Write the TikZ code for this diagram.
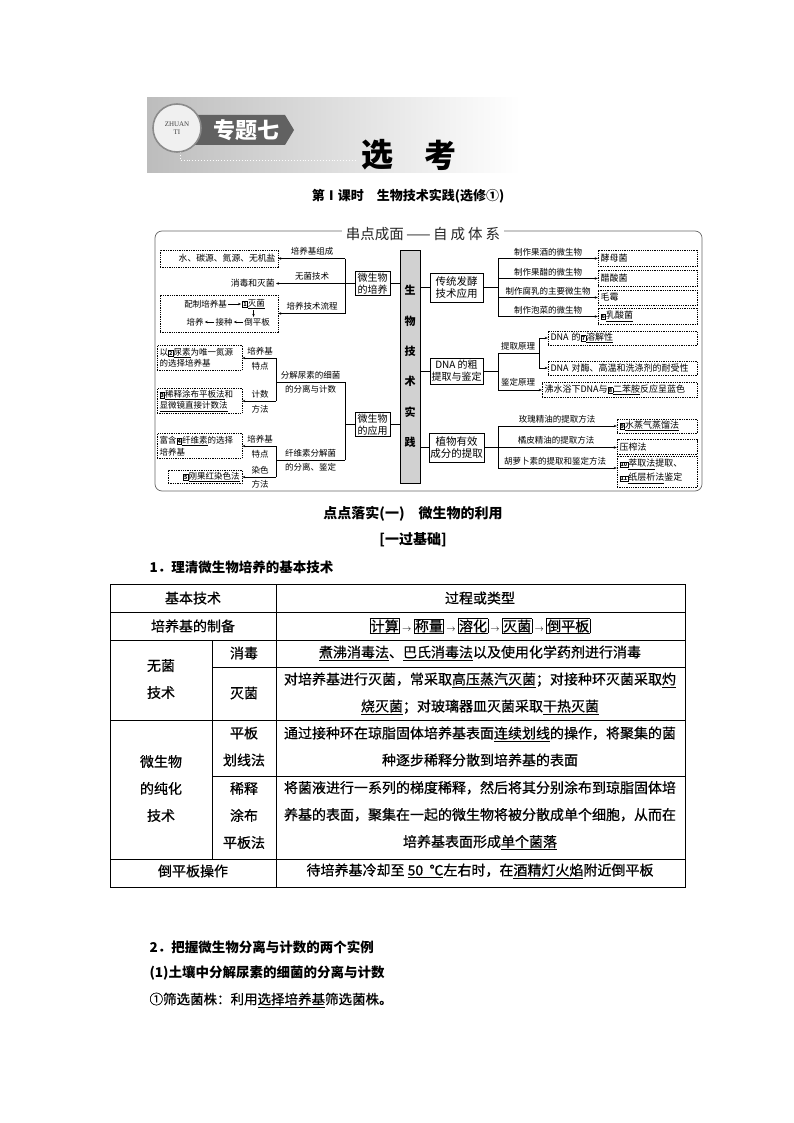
\documentclass[tikz,border=0pt]{standalone}
\usepackage{fontspec}
\setmainfont{Noto Sans CJK SC}
\newfontfamily\serifL{Liberation Serif}
\newfontfamily\tblf{Noto Sans CJK SC}[FakeBold=0.6]
\usetikzlibrary{arrows.meta,calc}
\newcommand\fsz[1]{\fontsize{#1}{#1}\selectfont}
\newcommand\uln[1]{\underline{#1}}
\newcommand\bnum[1]{{\setlength{\fboxsep}{0.5pt}\setlength{\fboxrule}{0.6pt}\fbox{\fontsize{5.5}{5.5}\selectfont\bfseries #1}}}
\newcommand\tb[1]{{\setlength{\fboxsep}{0.5pt}\setlength{\fboxrule}{0.6pt}\fbox{#1}}}
\newcommand\sarr{\,{\fontsize{9}{9}\selectfont$\rightarrow$}\,}
\begin{document}
\begin{tikzpicture}[x=1pt,y=-1pt,line width=0.5pt,
  arr/.style={-{Stealth[length=3pt,width=2.4pt]}},
  dbox/.style={draw,dash pattern=on 1.3pt off 1pt,inner xsep=2.5pt,inner ysep=1pt,font=\fontsize{9}{12}\selectfont,align=left},
  sbox/.style={draw,inner sep=1.5pt,align=center},
  lbl/.style={font=\fsz{8.5},inner sep=0.5pt},
  tt/.style={font=\tblf\fontsize{14}{27}\selectfont,align=center,inner sep=0pt},
  tx/.style={font=\fsz{8.5},inner sep=1pt}]
\useasboundingbox (0,0) rectangle (794,1123);
\fill[white] (0,0) rectangle (794,1123);

% ---------- header banner ----------
\shade[left color=black!26,middle color=black!16,right color=white] (147,98) rectangle (520,173);
\fill[black!62] (190,115) -- (285,115) -- (294,130) -- (285,145) -- (190,145) -- cycle;
\draw[white,dotted,line width=0.9] (180,152) -- (180,160) -- (357,160);
\draw[fill=black!6,draw=black!45,line width=1.6] (177,128) circle (24);
\node[font=\serifL\fontsize{7}{8.5}\selectfont,align=center,text=black!75] (zt) at (177,128) {ZHUAN\\TI};
\node[font=\fsz{22}\bfseries,text=white] (zt2) at (246,130) {专题七};
\node[font=\fsz{32}\bfseries] (xk1) at (377,155) {选};
\node[font=\fsz{32}\bfseries] (xk2) at (440,155) {考};
\node[font=\fsz{13}\bfseries] (sub) at (408,196) {第Ⅰ课时\quad 生物技术实践(选修①)};

% ---------- concept map ----------
\draw[black!60,line width=0.7,rounded corners=7] (155,231) rectangle (702,491);
\node[fill=white,inner xsep=4pt,inner ysep=1pt,font=\fsz{14.5},text=black!85] (mt) at (423,234) {串点成面\,——\,自\hspace{3pt}成\hspace{3pt}体\hspace{3pt}系};

\node[sbox,fill=black!18,minimum width=20,minimum height=233,font=\fontsize{11}{30.4}\selectfont\bfseries] (c) at (410,366.5) {生\\物\\技\\术\\实\\践};

\node[sbox,font=\fontsize{10}{11.5}\selectfont,minimum width=35,minimum height=23] (m1) at (372.5,283.5) {微生物\\的培养};
\node[sbox,font=\fontsize{10}{11.5}\selectfont,minimum width=35,minimum height=24] (m2) at (372.5,424.5) {微生物\\的应用};
\node[sbox,font=\fontsize{10.5}{12}\selectfont,minimum width=53,minimum height=29] (r1) at (456.5,287.5) {传统发酵\\技术应用};
\node[sbox,font=\fontsize{10}{12}\selectfont,minimum width=53,minimum height=26] (r2) at (456.5,371) {DNA 的粗\\提取与鉴定};
\node[sbox,font=\fontsize{10.5}{12}\selectfont,minimum width=53,minimum height=29] (r3) at (456.5,447.5) {植物有效\\成分的提取};

\draw (c.west |- m1) -- (m1.east);
\draw (c.west |- m2) -- (m2.east);
\draw (c.east |- r1) -- (r1.west);
\draw (c.east |- r2) -- (r2.west);
\draw (c.east |- r3) -- (r3.west);

% left upper
\coordinate (L1) at (345,283.5);
\coordinate (L1a) at (345,258.5);
\coordinate (L1c) at (345,313.5);
\draw (m1.west) -- (L1);
\draw (L1a) -- (L1c);
\node[dbox,font=\fsz{8.8},text width=113,align=right,minimum height=17] (b1) at (219,258.5) {水、碳源、氮源、无机盐};
\node[tx,font=\fsz{8.8},anchor=east] (b2) at (276,283.5) {消毒和灭菌};
\node[dbox,minimum width=118,minimum height=37] (b3) at (219,313.5) {};
\draw[arr] (L1a) -- (L1a -| b1.east);
\draw[arr] (L1) -- (b2.east);
\draw[arr] (L1c) -- (L1c -| b3.east);
\node[lbl] (t1) at (312,251) {培养基组成};
\node[lbl] (t2) at (312,276.5) {无菌技术};
\node[lbl] (t3) at (312,306) {培养技术流程};
\node[tx,anchor=east] (n1) at (228,304) {配制培养基};
\node[tx,anchor=west] (n2) at (241,304) {\bnum{1}\uln{灭菌}};
\node[tx,anchor=west] (n3) at (243,322) {倒平板};
\node[tx] (n4) at (224,322) {接种};
\node[tx] (n5) at (195,322) {培养};
\draw[arr] (n1.east) -- (n2.west);
\draw[arr] (n2.south) -- (n2.south |- n3.north);
\draw[arr] (n3.west) -- (n4.east);
\draw[arr] (n4.west) -- (n5.east);

% left lower
\coordinate (L2) at (345,424.5);
\coordinate (L2a) at (345,382);
\coordinate (L2b) at (345,460);
\coordinate (K1) at (276,382);
\coordinate (K2) at (276,460);
\draw (m2.west) -- (L2);
\draw (L2a) -- (L2b);
\draw (L2a) -- (K1);
\draw (L2b) -- (K2);
\node[lbl] (t4) at (310.5,375.5) {分解尿素的细菌};
\node[lbl] (t5) at (310.5,389.5) {的分离与计数};
\node[lbl] (t6) at (310.5,453.5) {纤维素分解菌};
\node[lbl] (t7) at (310.5,467.5) {的分离、鉴定};
\node[dbox,font=\fontsize{8.5}{11.5}\selectfont,text width=80,minimum height=25] (u1) at (199.5,358) {以\bnum{2}\uln{尿素}为唯一氮源\\的选择培养基};
\node[dbox,font=\fontsize{8.5}{11.5}\selectfont,text width=80,minimum height=25] (u2) at (199.5,401) {\bnum{3}\uln{稀释涂布平板法}和\\\uln{显微镜直接计数法}};
\node[dbox,font=\fontsize{8.5}{11.5}\selectfont,text width=80,minimum height=25] (u3) at (199.5,446) {富含\bnum{4}\uln{纤维素}的选择\\培养基};
\node[dbox,font=\fsz{8.5},text width=69,align=right,minimum height=13] (u4) at (205,477) {\bnum{5}\uln{刚果红染色法}};
\coordinate (K1a) at (276,358);
\coordinate (K1b) at (276,401);
\coordinate (K2a) at (276,446);
\coordinate (K2b) at (276,477);
\draw (K1a) -- (K1b);
\draw (K2a) -- (K2b);
\draw[arr] (K1a) -- (K1a -| u1.east);
\draw[arr] (K1b) -- (K1b -| u2.east);
\draw[arr] (K2a) -- (K2a -| u3.east);
\draw[arr] (K2b) -- (K2b -| u4.east);
\node[lbl] (t8) at (260,351) {培养基};
\node[lbl] (t9) at (260,366) {特点};
\node[lbl] (t10) at (260,394) {计数};
\node[lbl] (t11) at (260,409) {方法};
\node[lbl] (t12) at (260,439) {培养基};
\node[lbl] (t13) at (260,454) {特点};
\node[lbl] (t14) at (260,470) {染色};
\node[lbl] (t15) at (260,484.5) {方法};

% right: fermentation
\coordinate (R1) at (498,287.5);
\coordinate (R1a) at (498,258.5);
\coordinate (R1b) at (498,278.5);
\coordinate (R1c) at (498,297.5);
\coordinate (R1d) at (498,316.5);
\draw (r1.east) -- (R1);
\draw (R1a) -- (R1d);
\node[dbox,text width=94,minimum height=16] (f1) at (647.5,258.5) {酵母菌};
\node[dbox,text width=94,minimum height=16] (f2) at (647.5,278.5) {醋酸菌};
\node[dbox,text width=94,minimum height=15] (f3) at (647.5,297.5) {毛霉};
\node[dbox,text width=94,minimum height=16] (f4) at (647.5,316.5) {\bnum{6}\uln{乳酸菌}};
\draw[arr] (R1a) -- (R1a -| f1.west);
\draw[arr] (R1b) -- (R1b -| f2.west);
\draw[arr] (R1c) -- (R1c -| f3.west);
\draw[arr] (R1d) -- (R1d -| f4.west);
\node[lbl] (t16) at (548,252) {制作果酒的微生物};
\node[lbl] (t17) at (548,272) {制作果醋的微生物};
\node[lbl] (t18) at (548,291) {制作腐乳的主要微生物};
\node[lbl] (t19) at (548,310) {制作泡菜的微生物};

% right: DNA
\coordinate (R2) at (498,371);
\coordinate (R2a) at (498,353);
\coordinate (R2b) at (498,390);
\coordinate (R2c) at (539,353);
\coordinate (R2d) at (539,338);
\coordinate (R2e) at (539,368);
\draw (r2.east) -- (R2);
\draw (R2a) -- (R2b);
\draw (R2a) -- (R2c);
\draw (R2d) -- (R2e);
\node[dbox,text width=144,minimum height=14] (d1) at (622.5,338) {DNA 的\bnum{7}\uln{溶解性}};
\node[dbox,text width=144,minimum height=14] (d2) at (622.5,368) {DNA 对酶、高温和洗涤剂的耐受性};
\node[dbox,text width=150,minimum height=15] (d3) at (619.5,390) {沸水浴下DNA与\bnum{8}\uln{二苯胺}反应呈蓝色};
\draw[arr] (R2d) -- (R2d -| d1.west);
\draw[arr] (R2e) -- (R2e -| d2.west);
\draw[arr] (R2b) -- (R2b -| d3.west);
\node[lbl] (t20) at (518,346) {提取原理};
\node[lbl] (t21) at (518,382) {鉴定原理};

% right: plant extraction
\coordinate (R3) at (498,447.5);
\coordinate (R3a) at (498,426);
\coordinate (R3c) at (498,468);
\draw (r3.east) -- (R3);
\draw (R3a) -- (R3c);
\node[dbox,text width=75,minimum height=14] (p1) at (657,426) {\bnum{9}\uln{水蒸气蒸馏法}};
\node[dbox,text width=75,minimum height=15] (p2) at (657,447) {压榨法};
\node[dbox,font=\fontsize{9}{14}\selectfont,text width=75,minimum height=31] (p3) at (657,471.5) {\bnum{10}\uln{萃取法}提取、\\\bnum{11}\uln{纸层析法}鉴定};
\draw[arr] (R3a) -- (R3a -| p1.west);
\draw[arr] (R3) -- (R3 -| p2.west);
\draw[arr] (R3c) -- (R3c -| p3.west);
\node[lbl] (t22) at (557,419) {玫瑰精油的提取方法};
\node[lbl] (t23) at (556,440) {橘皮精油的提取方法};
\node[lbl] (t24) at (555,461.5) {胡萝卜素的提取和鉴定方法};

% ---------- headings ----------
\node[font=\fsz{14}\bfseries] (hd1) at (413,514) {点点落实(一)\quad 微生物的利用};
\node[font=\fsz{14}\bfseries] (hd2) at (413,540) {[一过基础]};
\node[font=\fsz{13.5}\bfseries,anchor=west] (hd3) at (146,567) {1．理清微生物培养的基本技术};

% ---------- table ----------
\draw[line width=0.7] (110,584) rectangle (685,887);
\draw (110,612) -- (685,612);
\draw (110,640) -- (685,640);
\draw (212,667) -- (685,667);
\draw (110,720) -- (685,720);
\draw (212,776) -- (685,776);
\draw (110,859) -- (685,859);
\draw (276,584) -- (276,887);
\draw (212,640) -- (212,859);

\node[tt] (h1) at (193,598) {基本技术};
\node[tt] (h2) at (480,598) {过程或类型};
\node[tt] (a1) at (193,626) {培养基的制备};
\node[tt] (a2) at (480,626) {\tb{计算}\sarr\tb{称量}\sarr\tb{溶化}\sarr\tb{灭菌}\sarr\tb{倒平板}};
\node[tt] (w1) at (161,679) {无菌\\技术};
\node[tt] (w2) at (244,653) {消毒};
\node[tt] (w3) at (480,653) {\uln{煮沸消毒法}、\uln{巴氏消毒法}以及使用化学药剂进行消毒};
\node[tt] (w4) at (244,693) {灭菌};
\node[tt] (w5) at (480,693.5) {对培养基进行灭菌，常采取\uln{高压蒸汽灭菌}；对接种环灭菌采取\uln{灼}\\\uln{烧灭菌}；对玻璃器皿灭菌采取\uln{干热灭菌}};
\node[tt] (s1) at (161,788.5) {微生物\\的纯化\\技术};
\node[tt] (s2) at (244,746.5) {平板\\划线法};
\node[tt] (s3) at (480,746.5) {通过接种环在琼脂固体培养基表面\uln{连续划线}的操作，将聚集的菌\\种逐步稀释分散到培养基的表面};
\node[tt] (s4) at (244,815.5) {稀释\\涂布\\平板法};
\node[tt] (s5) at (480,815.5) {将菌液进行一系列的梯度稀释，然后将其分别涂布到琼脂固体培\\养基的表面，聚集在一起的微生物将被分散成单个细胞，从而在\\培养基表面形成\uln{单个菌落}};
\node[tt] (e1) at (193,871) {倒平板操作};
\node[tt] (e2) at (480,871) {待培养基冷却至 \uln{50\ \ ℃}左右时，在\uln{酒精灯火焰}附近倒平板};

% ---------- bottom text ----------
\node[font=\fsz{13.5}\bfseries,anchor=west] (hd4) at (146,947) {2．把握微生物分离与计数的两个实例};
\node[font=\fsz{13.5}\bfseries,anchor=west] (hd5) at (146,973) {(1)土壤中分解尿素的细菌的分离与计数};
\node[font=\tblf\fsz{13.5},anchor=west] (hd6) at (146,1000) {①筛选菌株：利用\uln{选择培养基}筛选菌株。};
\end{tikzpicture}
\end{document}
